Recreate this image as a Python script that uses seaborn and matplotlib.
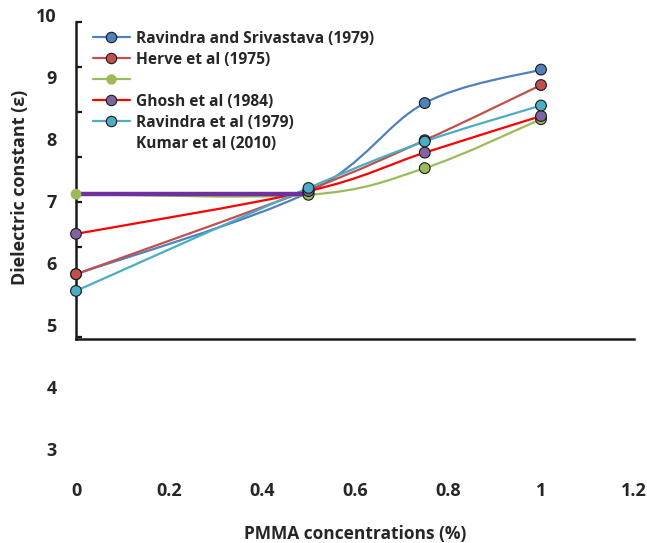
import matplotlib
matplotlib.use('Agg')
import matplotlib.pyplot as plt
import seaborn as sns
import numpy as np
from matplotlib.path import Path
from matplotlib.patches import PathPatch
from matplotlib.lines import Line2D

sns.set_style('white')
plt.rcParams['font.family'] = ['Open Sans', 'DejaVu Sans']
plt.rcParams['font.weight'] = 'bold'

# data
pmma = [0, 0.5, 0.75, 1.0]
ravindra_srivastava = [5.82, 7.14, 8.58, 9.12]
herve = [5.82, 7.18, 7.98, 8.87]
green_series = [7.11, 7.10, 7.53, 8.32]
ghosh = [6.47, 7.16, 7.78, 8.37]
ravindra = [5.55, 7.21, 7.96, 8.54]
kumar_x = [0, 0.5]
kumar = [7.11, 7.11]

labels = ['Ravindra and Srivastava (1979)', 'Herve et al (1975)', '',
          'Ghosh et al (1984)', 'Ravindra et al (1979)', 'Kumar et al (2010)']
x_ticks = [0, 0.2, 0.4, 0.6, 0.8, 1.0, 1.2]
x_ticklabels = ['0', '0.2', '0.4', '0.6', '0.8', '1', '1.2']
y_ticks = [3, 4, 5, 6, 7, 8, 9, 10]

BLUE, BROWN, GREEN, PURPLE, CYAN, RED = '#4F81BD', '#C0504D', '#9BBB59', '#8064A2', '#4BACC6', '#FF0000'


def smooth_path(xs, ys):
    # excel-like smoothed line as bezier segments
    pts = np.column_stack([xs, ys]).astype(float)
    n = len(pts)
    verts = [pts[0]]
    codes = [Path.MOVETO]
    for i in range(n - 1):
        p0 = pts[max(i - 1, 0)]
        p1 = pts[i]
        p2 = pts[i + 1]
        p3 = pts[min(i + 2, n - 1)]
        verts += [p1 + (p2 - p0) / 6, p2 - (p3 - p1) / 6, p2]
        codes += [Path.CURVE4] * 3
    return Path(verts, codes)


fig = plt.figure(figsize=(6.47, 5.43), dpi=100)
ax = fig.add_axes([76 / 647, 73 / 543, 558 / 647, 460 / 543])


def px2v(p):
    return 10 - (p - 15) / 62


series = [
    (ravindra_srivastava, BLUE, BLUE),
    (herve, BROWN, BROWN),
    (green_series, GREEN, GREEN),
    (ghosh, RED, PURPLE),
    (ravindra, CYAN, CYAN),
]

for ys, lc, mc in series:
    ax.add_patch(PathPatch(smooth_path(pmma, ys), facecolor='none', edgecolor=lc,
                           lw=1.6, clip_on=False, zorder=2))

sns.lineplot(x=kumar_x, y=kumar, color='#7030A0', linewidth=3.2, ax=ax, zorder=3)

for ys, lc, mc in series:
    edge = [0 if (mc == GREEN and i == 0) else 0.8 for i in range(len(ys))]
    ax.scatter(pmma, ys, s=60, color=mc, edgecolors='#1a1a1a', linewidths=edge,
               clip_on=False, zorder=4)

ax.set_xlim(0, 1.2)
ax.set_ylim(px2v(470), px2v(10))

for s in ['top', 'right']:
    ax.spines[s].set_visible(False)
ax.spines['left'].set_bounds(px2v(339), px2v(22))
ax.spines['bottom'].set_position(('data', px2v(339)))
for s in ['left', 'bottom']:
    ax.spines[s].set_linewidth(1.8)
    ax.spines[s].set_color('#1a1a1a')

ax.set_xticks(x_ticks)
ax.set_xticklabels(x_ticklabels)
ax.set_yticks(y_ticks)
ax.set_yticks([px2v(22 + 45 * k) for k in range(8)], minor=True)
ax.tick_params(axis='x', direction='out', length=4, width=1.6, color='#1a1a1a',
               pad=99, labelsize=13)
ax.tick_params(axis='y', which='major', length=0, pad=14, labelsize=13)
ax.tick_params(axis='y', which='minor', direction='in', left=True, length=4,
               width=1.6, color='#1a1a1a')

ax.set_xlabel('PMMA concentrations (%)', fontsize=12.5, fontweight='bold')
ax.xaxis.set_label_coords(0.5, -0.119)
ax.set_ylabel('Dielectric constant (ε)', fontsize=13, fontweight='bold')
ax.yaxis.set_label_coords(-0.085, 0.615)

handles = []
for ys, lc, mc in series:
    handles.append(Line2D([], [], color=lc, lw=1.6, marker='o', markersize=7.5,
                          markerfacecolor=mc,
                          markeredgecolor='none' if mc == GREEN else '#1a1a1a',
                          markeredgewidth=0.8))
handles.append(Line2D([], [], color='none'))
leg = ax.legend(handles, labels, loc='upper left', bbox_to_anchor=(0.03, 0.955),
                frameon=False, fontsize=11.2, handlelength=2.4, handletextpad=0.35,
                labelspacing=0.32, borderpad=0, borderaxespad=0)

fig.savefig('out.png', dpi=100)
